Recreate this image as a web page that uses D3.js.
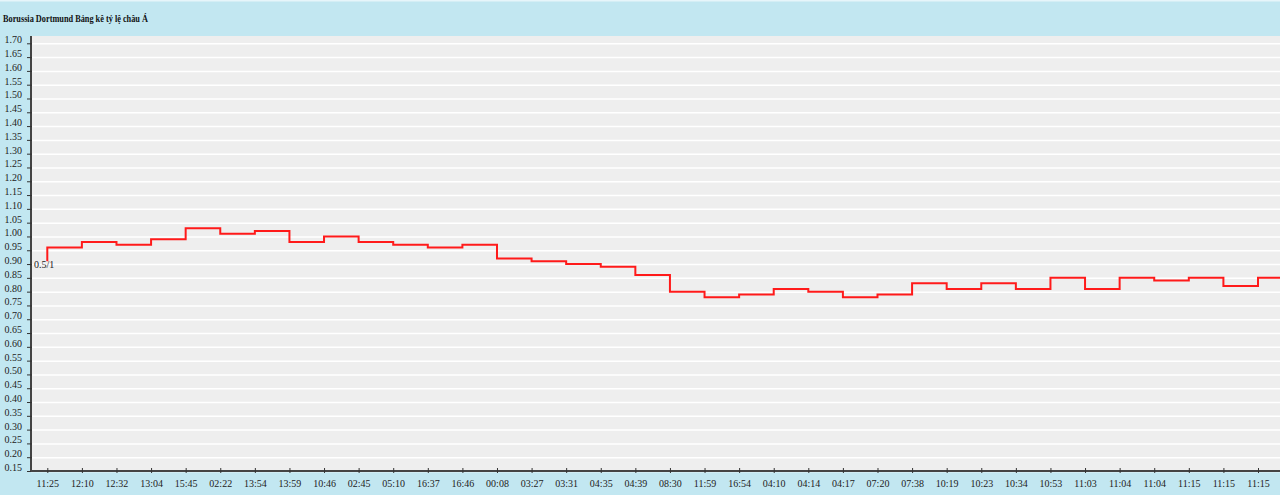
<!DOCTYPE html>
<html>
<head>
<meta charset="utf-8">
<script src="https://cdn.jsdelivr.net/npm/d3@7/dist/d3.min.js"></script>
<style>
  html, body { margin: 0; padding: 0; background: #c2e7f1; }
  svg { display: block; }
</style>
</head>
<body>
<svg id="chart" width="1280" height="495"></svg>
<script>
const title = "Borussia Dortmund Bảng kê tỷ lệ châu Á";
const timeLabels = ["11:25","12:10","12:32","13:04","15:45","02:22","13:54","13:59","10:46","02:45","05:10","16:37","16:46","00:08","03:27","03:31","04:35","04:39","08:30","11:59","16:54","04:10","04:14","04:17","07:20","07:38","10:19","10:23","10:34","10:53","11:03","11:04","11:04","11:15","11:15","11:15"];
const oddsValues = [0.96,0.98,0.97,0.99,1.03,1.01,1.02,0.98,1.00,0.98,0.97,0.96,0.97,0.92,0.91,0.90,0.89,0.86,0.80,0.78,0.79,0.81,0.80,0.78,0.79,0.83,0.81,0.83,0.81,0.85,0.81,0.85,0.84,0.85,0.82,0.85];
const openValue = 0.91;
const handicapLabel = "0.5/1";
const yTickValues = [0.15,0.20,0.25,0.30,0.35,0.40,0.45,0.50,0.55,0.60,0.65,0.70,0.75,0.80,0.85,0.90,0.95,1.00,1.05,1.10,1.15,1.20,1.25,1.30,1.35,1.40,1.45,1.50,1.55,1.60,1.65,1.70];

const svg = d3.select("#chart");
const W = 1280, H = 495;
const plotLeft = 31, plotRight = 1280, plotTop = 36, plotBottom = 471;

svg.append("rect").attr("x",0).attr("y",0).attr("width",W).attr("height",H).attr("fill","#c2e7f1");
svg.append("rect").attr("x",0).attr("y",0).attr("width",W).attr("height",1.5).attr("fill","#e6f5fa");

svg.append("text").attr("x",3).attr("y",22)
  .attr("font-family","'Liberation Serif', 'DejaVu Serif', serif")
  .attr("font-size",10).attr("font-weight","bold").attr("fill","#111")
  .attr("textLength",145).attr("lengthAdjust","spacingAndGlyphs")
  .text(title);

const x = d3.scaleLinear().domain([0, timeLabels.length - 1]).range([47.3, 1258]);
const y = d3.scaleLinear().domain([0.15, 1.70]).range([plotBottom, 43.3]);

svg.append("rect").attr("x",plotLeft).attr("y",plotTop)
  .attr("width",plotRight-plotLeft).attr("height",plotBottom-plotTop).attr("fill","#eeeeee");

svg.append("g").selectAll("line").data(yTickValues).join("line")
  .attr("x1",plotLeft).attr("x2",plotRight)
  .attr("y1",d=>y(d)+0.5).attr("y2",d=>y(d)+0.5)
  .attr("stroke","#ffffff").attr("stroke-width",1.5);

// line
const pts = [{i:0, v:openValue}].concat(oddsValues.map((v,i)=>({i, v})));
pts.push({i: x.invert(plotRight), v: oddsValues[oddsValues.length-1]});
const line = d3.line().x(d=>x(d.i)).y(d=>y(d.v)).curve(d3.curveStepAfter);
svg.append("path").datum(pts).attr("d",line)
  .attr("fill","none").attr("stroke","#ff1a1a").attr("stroke-width",2);

// handicap label
svg.append("text").attr("x",34).attr("y",y(openValue)+7)
  .attr("font-family","'Liberation Serif', 'DejaVu Serif', serif")
  .attr("font-size",10).attr("fill","#222").text(handicapLabel);

// y axis
const yAxis = d3.axisLeft(y).tickValues(yTickValues).tickFormat(d=>d.toFixed(2))
  .tickSizeInner(4).tickSizeOuter(0).tickPadding(5);
const gy = svg.append("g").attr("transform",`translate(${plotLeft},0)`).call(yAxis);
gy.select(".domain").attr("stroke","#444").attr("stroke-width",2)
  .attr("d", `M0,${plotTop}V${plotBottom}`);
gy.selectAll(".tick line").attr("stroke","#333").attr("x2",1).attr("x1",-4);
gy.selectAll(".tick text").attr("font-family","'Liberation Serif', 'DejaVu Serif', serif")
  .attr("font-size",10).attr("fill","#222").attr("dy","-0.05em");

// x axis
const xAxis = d3.axisBottom(x).tickValues(d3.range(timeLabels.length)).tickFormat(i=>timeLabels[i])
  .tickSizeInner(3).tickSizeOuter(0).tickPadding(6);
const gx = svg.append("g").attr("transform",`translate(0,${plotBottom})`).call(xAxis);
gx.select(".domain").attr("stroke","#444").attr("stroke-width",2)
  .attr("d", `M${plotLeft},0H${plotRight}`);
gx.selectAll(".tick line").attr("stroke","#333").attr("y1",-3).attr("y2",2);
gx.selectAll(".tick text").attr("font-family","'Liberation Serif', 'DejaVu Serif', serif")
  .attr("font-size",10).attr("fill","#222");
</script>
</body>
</html>
